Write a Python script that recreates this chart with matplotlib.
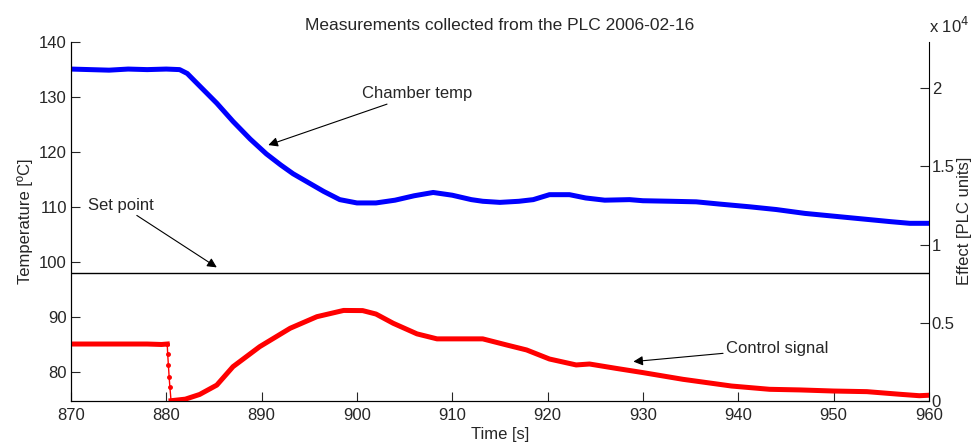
import matplotlib
matplotlib.use("Agg")
import matplotlib.pyplot as plt
from matplotlib.ticker import FuncFormatter

plt.rcParams['font.family'] = ['Liberation Sans', 'DejaVu Sans']
plt.rcParams['font.size'] = 12

# chamber temperature [C]
temp_t = [870, 872, 874, 876, 878, 880, 881.4, 882.2, 883, 885.3, 887, 888.8, 890.5, 892,
          893.3, 895, 896.5, 898.2, 900, 902, 904, 906, 908, 910, 912, 913.2, 915, 917,
          918.5, 920.2, 922.3, 924, 926, 928.6, 930, 933, 935.6, 938, 941.2, 944, 947,
          950, 953, 956, 958, 960]
temp_v = [135, 134.9, 134.8, 135, 134.9, 135, 134.9, 134.2, 132.8, 128.8, 125.5, 122.3,
          119.6, 117.6, 116, 114.3, 112.8, 111.3, 110.7, 110.7, 111.2, 112, 112.6, 112.1,
          111.3, 111.0, 110.8, 111, 111.3, 112.2, 112.2, 111.6, 111.2, 111.3, 111.1, 111,
          110.9, 110.5, 110.0, 109.5, 108.8, 108.3, 107.8, 107.3, 107, 107]

# set point [C]
setpoint = 98

# control signal [PLC units]
ctrl_pre_t = [870, 874, 878, 879.5, 880.1]
ctrl_pre_v = [3630, 3630, 3630, 3600, 3630]
ctrl_drop_t = [880.1, 880.15, 880.22, 880.3, 880.38, 880.5]
ctrl_drop_v = [3630, 2970, 2290, 1520, 860, 0]
ctrl_post_t = [880.5, 882, 883.5, 885.3, 887, 889.8, 893, 895.8, 898.6, 900.6, 902,
               903.8, 906.3, 908.4, 911, 913.2, 915.7, 917.8, 920.2, 923, 924.4, 927.2,
               930, 934.2, 939.3, 943.3, 946.5, 950, 953.5, 957, 959, 960]
ctrl_post_v = [0, 100, 400, 1000, 2180, 3460, 4640, 5380, 5780, 5770, 5550, 4960, 4280,
               3960, 3960, 3960, 3570, 3250, 2670, 2290, 2350, 2070, 1800, 1370, 940,
               730, 690, 620, 580, 410, 320, 350]

txt = '#262626'
fig = plt.figure(figsize=(9.76, 4.44), dpi=100)
ax = fig.add_axes([0.0727, 0.0975, 0.879, 0.809])
ax2 = ax.twinx()

ax.plot(temp_t, temp_v, color='#0000ff', lw=3.6)
ax.axhline(setpoint, color='k', lw=1)
ax.set_xlim(870, 960)
ax.set_ylim(74.8, 140)
ax.set_xticks(range(870, 961, 10))
ax.set_yticks(range(80, 141, 10))

ax2.plot(ctrl_pre_t, ctrl_pre_v, color='#ff0000', lw=3.6)
ax2.plot(ctrl_drop_t, ctrl_drop_v, color='#ff0000', lw=1, marker='o', ms=2.5)
ax2.plot(ctrl_post_t, ctrl_post_v, color='#ff0000', lw=3.6)
ax2.set_ylim(0, 23000)
ax2.set_yticks([0, 5000, 10000, 15000, 20000])
ax2.yaxis.set_major_formatter(FuncFormatter(lambda v, p: '%g' % (v / 1e4)))

for a in (ax, ax2):
    a.spines['top'].set_visible(False)
    a.tick_params(direction='in', length=6.5, colors=txt, labelsize=12, pad=3)
ax.spines['right'].set_visible(False)
ax.tick_params(axis='x', pad=5)
ax2.tick_params(axis='y', pad=2)

ax.set_title('Measurements collected from the PLC 2006-02-16', fontsize=12.5, color=txt, pad=8)
ax.set_xlabel('Time [s]', fontsize=12, color=txt, labelpad=3)
ax.set_ylabel('Temperature [ºC]', fontsize=12, color=txt, labelpad=4)
ax2.set_ylabel('Effect [PLC units]', fontsize=12, color=txt, labelpad=1.5)
ax2.text(1.0, 1.015, 'x 10$^4$', transform=ax2.transAxes, fontsize=12, color=txt,
         ha='left', va='bottom')

arrow = dict(arrowstyle='-|>', color='k', lw=0.8, mutation_scale=14, shrinkA=0, shrinkB=0)
ax.annotate('Chamber temp', xy=(890.7, 121.2), xytext=(900.5, 130.5), fontsize=12,
            color=txt, va='center', ha='left', arrowprops=arrow)
ax.annotate('Set point', xy=(885.3, 99.0), xytext=(871.8, 110.3), fontsize=12,
            color=txt, va='center', ha='left', arrowprops=arrow)
ax.annotate('Control signal', xy=(929.0, 81.9), xytext=(938.7, 84.3), fontsize=12,
            color=txt, va='center', ha='left', arrowprops=arrow)

fig.savefig('out.png', dpi=100, facecolor='white')
